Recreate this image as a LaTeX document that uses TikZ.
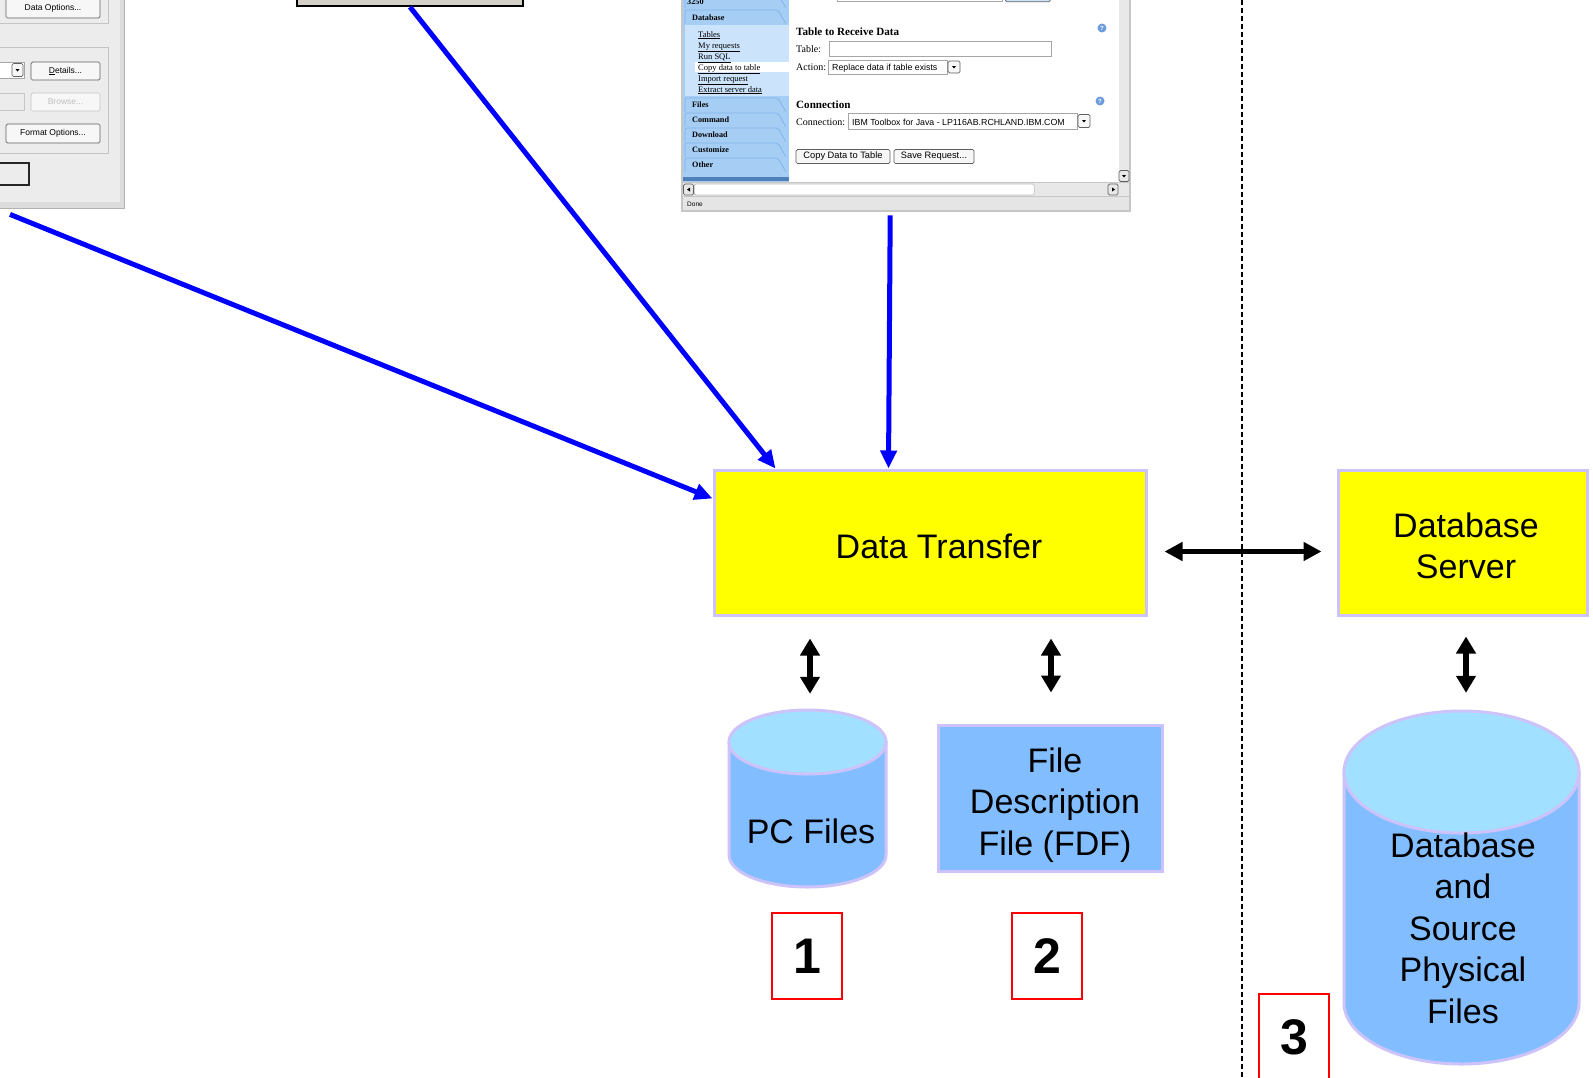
\documentclass[tikz,border=0pt]{standalone}
\usepackage{fontspec}
\setmainfont{Liberation Sans}
\newfontfamily\uiserif{Liberation Serif}
\usetikzlibrary{arrows.meta,calc}
\definecolor{yel}{HTML}{FFFF00}
\definecolor{lav}{HTML}{CDC3FA}
\definecolor{cylbody}{HTML}{82BEFF}
\definecolor{cyltop}{HTML}{A2E0FF}
\definecolor{winbg}{HTML}{ECECEC}
\definecolor{winframe}{HTML}{DCDCDC}
\definecolor{grpline}{HTML}{C4C4C4}
\definecolor{uigray}{HTML}{D4D0C8}
\definecolor{navblue}{HTML}{A6CEF5}
\definecolor{navlight}{HTML}{CBE4FB}
\definecolor{navline}{HTML}{80B2E6}
\definecolor{navdark}{HTML}{4F80B8}
\definecolor{helpblue}{HTML}{6C9CDA}
\definecolor{sbgray}{HTML}{E8E8E8}
\definecolor{blu}{HTML}{0000FF}
\newcommand\myBig{\fontsize{34}{41.5}\selectfont}
\newcommand\myUi{\fontsize{8.5}{10}\selectfont}
\newcommand\myUiR{\fontsize{9.3}{11}\selectfont}
\newcommand\myUiF{\fontsize{8.8}{10}\selectfont}
\newcommand\myNav{\uiserif\fontsize{8.5}{10}\selectfont}
\newcommand\myNavB{\uiserif\bfseries\fontsize{8.2}{10}\selectfont}
\newcommand\mySerL{\uiserif\fontsize{10}{12}\selectfont}
\newcommand\mySerB{\uiserif\bfseries\fontsize{11.1}{13}\selectfont}
\newcommand\mycyl[5]{%
  \filldraw[fill=cylbody,draw=lav,line width=3pt] (#1-#4,#2) -- (#1-#4,#3)
    arc[start angle=180,end angle=360,x radius=#4pt,y radius=#5pt] -- (#1+#4,#2) -- cycle;
  \filldraw[fill=cyltop,draw=lav,line width=3pt] (#1,#2) ellipse[x radius=#4pt,y radius=#5pt];}
\tikzset{
  ybox/.style={draw=lav,line width=3pt,fill=yel,inner sep=0pt,font=\myBig,align=center},
  bbox/.style={draw=lav,line width=3pt,fill=cylbody,inner sep=0pt,font=\myBig,align=center},
  holder/.style={inner sep=0pt,draw=none},
  bigtxt/.style={inner sep=0pt,font=\myBig,align=center},
  numbox/.style={draw=red,line width=1.5pt,minimum width=70pt,minimum height=86pt,inner sep=0pt,font=\fontsize{50}{60}\selectfont\bfseries},
  bluearr/.style={draw=blu,line width=5pt,-{Triangle[length=18pt,width=16pt]}},
  dblarr/.style={draw=black,line width=6pt,{Triangle[length=17pt,width=19pt]}-{Triangle[length=17pt,width=19pt]}},
  hdblarr/.style={draw=black,line width=5pt,{Triangle[length=18pt,width=18pt]}-{Triangle[length=18pt,width=18pt]}},
  uibtn/.style={draw=gray!75!black,fill=gray!6,rounded corners=1.5pt,line width=0.7pt,inner sep=0pt,font=\myUi},
  uibtnr/.style={uibtn,font=\myUiR},
  field/.style={draw=gray!70,fill=white,line width=0.7pt,inner sep=0pt},
  grp/.style={draw=grpline,line width=1pt},
  navtab/.style={draw=navline,line width=0.7pt,rounded corners=2pt},
  uitxt/.style={inner sep=0pt,anchor=base west,font=\myUiF},
  navtxt/.style={inner sep=0pt,anchor=base west,font=\myNav},
  navbold/.style={inner sep=0pt,anchor=base west,font=\myNavB},
  sepline/.style={draw=black,line width=1.1pt,dash pattern=on 5pt off 3pt}
}
\begin{document}
\begin{tikzpicture}[x=1pt,y=-1pt]
\useasboundingbox (0,0) rectangle (1593,1077);
\fill[white] (0,0) rectangle (1593,1077);

% ---------- left screenshot fragment ----------
\node[holder,fill=winframe,minimum width=124pt,minimum height=208pt,anchor=north west] (ls) at (0,0) {};
\fill[winbg] (0,0) rectangle (120,202);
\draw[gray!60,line width=1pt] (124,0) -- (124,208) -- (0,208);
\draw[grp] (0,23) -- (108,23) -- (108,0);
\draw[grp] (0,47) -- (108,47) -- (108,153) -- (0,153);
\node[uibtn,minimum width=94pt,minimum height=20pt] (lb1) at (53,8) {Data Options...};
\node[field,minimum width=26pt,minimum height=16pt] (lc1) at (11,70) {};
\node[uibtn,minimum width=11pt,minimum height=13pt] (lc1b) at (17.5,70) {};
\fill[black] (15.5,69) -- (19.5,69) -- (17.5,71.5) -- cycle;
\node[uibtn,minimum width=69pt,minimum height=18pt] (lb2) at (65.5,71) {\underline{D}etails...};
\node[field,draw=gray!45,fill=winbg,minimum width=26pt,minimum height=17pt] (lc2) at (11,101.5) {};
\node[uibtn,draw=gray!45,minimum width=69pt,minimum height=18pt,text=gray!50] (lb3) at (65.5,102) {Browse...};
\node[uibtn,minimum width=94pt,minimum height=19pt] (lb4) at (53,133.5) {Format Options...};
\node[draw=gray!30!black,line width=1.3pt,minimum width=30pt,minimum height=22pt,inner sep=0pt] (lc3) at (14,174) {};

% ---------- middle top fragment ----------
\node[draw=black,line width=2pt,fill=uigray,minimum width=226pt,minimum height=20pt,inner sep=0pt] (ms) at (410,-4) {};

% ---------- right screenshot fragment ----------
\node[holder,fill=gray!45,minimum width=450pt,minimum height=212pt,anchor=north west] (rs) at (681,0) {};
\fill[navblue] (683,0) rectangle (789,182);
\fill[white] (789,0) rectangle (1119,182);
\fill[navlight] (685,25) rectangle (789,96);
\fill[white] (695,62) rectangle (789,72);
\draw[navtab] (685,8) -- (685,-6) -- (778,-6) -- (786,8);
\foreach \yy in {10,98,113,128,143,158}{
  \draw[navtab] (685,\yy+14) -- (685,\yy) -- (778,\yy) -- (786,\yy+14);}
\fill[navdark] (683,177) rectangle (789,181);
\node[navbold] (nv0) at (687,4) {3250};
\node[navbold] (nv1) at (692,20) {Database};
\node[navtxt] (nv2) at (698,37) {\underline{Tables}};
\node[navtxt] (nv3) at (698,48) {\underline{My requests}};
\node[navtxt] (nv4) at (698,59) {\underline{Run SQL}};
\node[navtxt] (nv5) at (698,70) {\underline{Copy data to table}};
\node[navtxt] (nv6) at (698,81) {\underline{Import request}};
\node[navtxt] (nv7) at (698,92) {\underline{Extract server data}};
\node[navbold] (nv8) at (692,107) {Files};
\node[navbold] (nv9) at (692,122) {Command};
\node[navbold] (nv10) at (692,137) {Download};
\node[navbold] (nv11) at (692,152) {Customize};
\node[navbold] (nv12) at (692,167) {Other};
% top slivers
\node[field,minimum width=165pt,minimum height=6pt,anchor=south west] (tsl1) at (837,2) {};
\node[uibtn,fill=navlight,minimum width=45pt,minimum height=6pt,anchor=south west] (tsl2) at (1005,2) {};
% table section
\node[inner sep=0pt,anchor=base west,font=\mySerB] (tt1) at (796,35) {Table to Receive Data};
\node[inner sep=0pt,anchor=base west,font=\mySerL] (tt2) at (796,52) {Table:};
\node[field,minimum width=222pt,minimum height=15pt,anchor=north west] (tf1) at (829,41) {};
\node[inner sep=0pt,anchor=base west,font=\mySerL] (tt3) at (796,70) {Action:};
\node[field,minimum width=119pt,minimum height=14pt,anchor=north west] (tf2) at (828,60) {};
\node[uitxt] (tt4) at (832,70.5) {Replace data if table exists};
\node[uibtn,minimum width=12pt,minimum height=12pt] (ta1) at (954,67) {};
\fill[black] (952,66) -- (956,66) -- (954,68.5) -- cycle;
\node[circle,fill=helpblue,minimum size=9pt,inner sep=0pt,text=white,font=\fontsize{6}{6}\selectfont\bfseries] (hp1) at (1102,28) {?};
% connection section
\node[inner sep=0pt,anchor=base west,font=\mySerB] (tc1) at (796,108) {Connection};
\node[inner sep=0pt,anchor=base west,font=\mySerL] (tc2) at (796,125) {Connection:};
\node[field,minimum width=229pt,minimum height=16pt,anchor=north west] (tf3) at (848,113) {};
\node[uitxt] (tc3) at (852,125) {IBM Toolbox for Java - LP116AB.RCHLAND.IBM.COM};
\node[uibtn,minimum width=12pt,minimum height=13pt] (ta2) at (1084,121) {};
\fill[black] (1082,120) -- (1086,120) -- (1084,122.5) -- cycle;
\node[circle,fill=helpblue,minimum size=9pt,inner sep=0pt,text=white,font=\fontsize{6}{6}\selectfont\bfseries] (hp2) at (1100,101) {?};
\node[uibtnr,minimum width=94pt,minimum height=14pt] (cb1) at (843,156.5) {Copy Data to Table};
\node[uibtnr,minimum width=80pt,minimum height=14pt] (cb2) at (934,156.5) {Save Request...};
% scrollbars and status bar
\fill[sbgray] (1119,0) rectangle (1129,182);
\node[uibtn,fill=sbgray,minimum width=10pt,minimum height=11pt] (vsb) at (1124,176) {};
\fill[black] (1122,175) -- (1126,175) -- (1124,177.5) -- cycle;
\fill[sbgray] (683,183) rectangle (1129,196);
\node[uibtn,fill=white,draw=gray!50,minimum width=340pt,minimum height=11pt,anchor=west] (hsb) at (694,189.5) {};
\node[uibtn,fill=sbgray,minimum width=10pt,minimum height=11pt] (hsl) at (688.5,189.5) {};
\node[uibtn,fill=sbgray,minimum width=10pt,minimum height=11pt] (hsr) at (1113,189.5) {};
\fill[black] (690,187.5) -- (690,191.5) -- (687,189.5) -- cycle;
\fill[black] (1112,187.5) -- (1112,191.5) -- (1115,189.5) -- cycle;
\fill[gray!20] (683,196.5) rectangle (1129,210);
\node[inner sep=0pt,anchor=base west,font=\fontsize{6.5}{8}\selectfont] (st) at (687,206) {Done};

% ---------- main diagram ----------
\node[ybox,minimum width=432pt,minimum height=145pt] (dt) at (930,542.5) {};
\node[bigtxt] (dtt) at (939,546) {Data Transfer};
\node[ybox,minimum width=249pt,minimum height=145pt] (dbs) at (1462.5,542.5) {};
\node[bigtxt] (dbst) at (1466,546) {Database\\Server};

\mycyl{807.5}{742}{855}{78.5}{32}
\node[holder,minimum width=157pt,minimum height=177pt] (pc) at (807.5,798.5) {};
\node[bigtxt] (pct) at (811,831) {PC Files};

\node[bbox,minimum width=224pt,minimum height=146pt] (fdf) at (1050,798) {};
\node[bigtxt] (fdft) at (1055,805) {File\\Description\\File (FDF)};

\mycyl{1461.5}{772}{1003}{117.5}{61}
\node[holder,minimum width=235pt,minimum height=353pt] (dbf) at (1461.5,887.5) {};
\node[bigtxt] (dbft) at (1463,928) {Database\\and\\Source\\Physical\\Files};

\node[numbox] (n1) at (807,956) {1};
\node[numbox] (n2) at (1047,956) {2};
\node[numbox] (n3) at (1294,1037) {3};

\draw[sepline] (1242,0) -- (1242,1077);

% blue arrows
\draw[bluearr] ([xshift=10pt,yshift=-6pt]ls.south west) -- ([yshift=-30pt]dt.north west);
\draw[bluearr] (ms.south) -- ([xshift=63pt]dt.north west);
\draw[bluearr] ([xshift=-16pt,yshift=-3pt]rs.south) -- ([xshift=176pt]dt.north west);

% black double arrows
\draw[hdblarr,shorten <=17pt,shorten >=15pt] ([yshift=-9pt]dt.east) -- ([yshift=-9pt]dbs.west);
\draw[dblarr,shorten <=22pt,shorten >=16pt] ([xshift=2.5pt]pc.north |- dt.south) -- ([xshift=2.5pt]pc.north);
\draw[dblarr,shorten <=22pt,shorten >=31pt] ([xshift=1pt]fdf.north |- dt.south) -- ([xshift=1pt]fdf.north);
\draw[dblarr,shorten <=20pt,shorten >=18pt] ([xshift=4.5pt]dbf.north |- dbs.south) -- ([xshift=4.5pt]dbf.north);
\end{tikzpicture}
\end{document}
